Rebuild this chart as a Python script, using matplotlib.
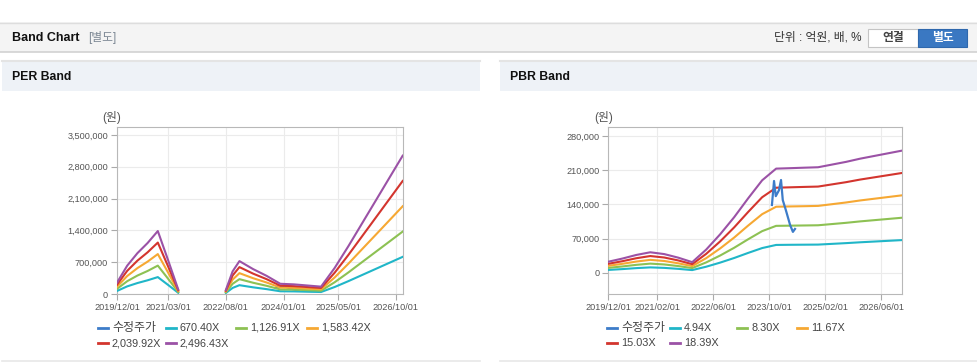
import numpy as np
import matplotlib.pyplot as plt
from matplotlib.patches import Rectangle
from matplotlib.lines import Line2D

plt.rcParams['font.family'] = ['Liberation Sans', 'Noto Sans CJK KR', 'DejaVu Sans']

nan = np.nan

# ---- data (x = months since 2019/12/01) ----
band_colors = ['#3d7cc9', '#20b6c8', '#8dc153', '#f6a833', '#d3352e', '#9b52a6']

per_labels = ['수정주가', '670.40X', '1,126.91X', '1,583.42X', '2,039.92X', '2,496.43X']
per_months = [0, 3, 6, 9, 12, 15, 18, 25, 32, 34, 36, 40, 44, 48, 52, 56, 60, 64, 68, 72, 76, 80, 84]
per_670 = [67000, 168000, 241000, 302000, 372000, 201000, 27000, nan, 23000, 134000, 194000, 147000,
           107000, 60000, 57000, 50000, 44000, 154000, 282000, 416000, 550000, 684000, 818000]
per_1126 = [113000, 282000, 406000, 507000, 625000, 338000, 45000, nan, 39000, 225000, 327000, 248000,
            180000, 101000, 96000, 85000, 73000, 259000, 473000, 699000, 924000, 1149000, 1375000]
per_1583 = [158000, 396000, 570000, 713000, 879000, 475000, 63000, nan, 55000, 317000, 459000, 348000,
            253000, 143000, 135000, 119000, 103000, 364000, 665000, 982000, 1298000, 1615000, 1932000]
per_2039 = [204000, 510000, 734000, 918000, 1132000, 612000, 82000, nan, 71000, 408000, 592000, 449000,
            326000, 184000, 173000, 153000, 133000, 469000, 857000, 1265000, 1673000, 2081000, 2489000]
per_2496 = [250000, 624000, 899000, 1123000, 1386000, 749000, 100000, nan, 87000, 499000, 724000, 549000,
            399000, 225000, 212000, 187000, 162000, 574000, 1049000, 1548000, 2047000, 2547000, 3046000]
per_xticks = ['2019/12/01', '2021/03/01', '2022/08/01', '2024/01/01', '2025/05/01', '2026/10/01']
per_yticks = [0, 700000, 1400000, 2100000, 2800000, 3500000]

pbr_labels = ['수정주가', '4.94X', '8.30X', '11.67X', '15.03X', '18.39X']
pbr_months = [0, 4, 8, 12, 16, 20, 24, 28, 32, 36, 40, 44, 48, 52, 56, 60, 64, 68, 72, 76, 80, 84]
pbr_494 = [6200, 7900, 9900, 11400, 10400, 8400, 5900, 12800, 21200, 30600, 41000, 50900,
           57300, 57600, 57800, 58000, 59500, 61000, 62700, 64200, 65700, 67200]
pbr_830 = [10400, 13300, 16600, 19100, 17400, 14100, 10000, 21600, 35700, 51500, 68900, 85500,
           96300, 96700, 97100, 97500, 100000, 102500, 105400, 107900, 110400, 112900]
pbr_1167 = [14600, 18700, 23300, 26800, 24500, 19800, 14000, 30300, 50200, 72400, 96900, 120200,
            135400, 136000, 136500, 137100, 140600, 144100, 148200, 151700, 155200, 158700]
pbr_1503 = [18800, 24000, 30100, 34600, 31600, 25600, 18000, 39100, 64600, 93200, 124700, 154800,
            174300, 175100, 175900, 176600, 181100, 185600, 190900, 195400, 199900, 204400]
pbr_1839 = [23000, 29400, 36800, 42300, 38600, 31300, 22100, 47800, 79100, 114000, 152600, 189400,
            213300, 214200, 215200, 216100, 221600, 227100, 233600, 239100, 244600, 250100]
pbr_xticks = ['2019/12/01', '2021/02/01', '2022/06/01', '2023/10/01', '2025/02/01', '2026/06/01']
pbr_yticks = [0, 70000, 140000, 210000, 280000]

# adjusted share price
price_months = [46.8, 47.4, 47.9, 48.8, 49.4, 49.9, 50.8, 52.0, 52.8, 53.4]
price = [139000, 188000, 157000, 169000, 190000, 149000, 128000, 98000, 84000, 90000]

W, H = 978, 362


def fx(x):
    return x / W


def fy(y):
    return 1 - y / H


def month_of(label):
    y, m, _ = label.split('/')
    return (int(y) - 2019) * 12 + int(m) - 12


def rect(x0, y0, x1, y1, fc, ec='none', lw=0.8):
    fig.add_artist(Rectangle((fx(x0), fy(y1)), (x1 - x0) / W, (y1 - y0) / H,
                             transform=fig.transFigure, facecolor=fc, edgecolor=ec, lw=lw))


def hline(x0, x1, y, color, lw=1.0):
    fig.add_artist(Line2D([fx(x0), fx(x1)], [fy(y), fy(y)], transform=fig.transFigure,
                          color=color, lw=lw))


fig = plt.figure(figsize=(9.78, 3.62), dpi=100)

# top header bar
rect(0, 22, 978, 52, '#f4f4f4')
hline(0, 978, 22.5, '#dddddd')
hline(0, 978, 52, '#d2d2d2', 1.2)
fig.text(fx(12), fy(38), 'Band Chart', fontsize=9, fontweight='bold', va='center', color='#111111')
fig.text(fx(88), fy(38), '[별도]', fontsize=8.5, va='center', color='#7c8794')
fig.text(fx(862), fy(38), '단위 : 억원, 배, %', fontsize=8.5, va='center', ha='right', color='#333333')
rect(868, 29, 918, 47, 'white', '#c4c4c4')
rect(918, 29, 967, 47, '#3a78c2', '#2f68ad')
fig.text(fx(893), fy(38), '연결', fontsize=8.5, va='center', ha='center', color='#444444', fontweight='bold')
fig.text(fx(942.5), fy(38), '별도', fontsize=8.5, va='center', ha='center', color='white', fontweight='bold')


def band_panel(px0, px1, title, ax_box, months, series, xtick_labels, yticks, ylim,
               labels, legend_x):
    # panel frame
    hline(px0, px1, 61, '#e4e4e4', 1.5)
    rect(px0, 62, px1, 91, '#eef2f7')
    hline(px0, px1, 361, '#e8e8e8', 1.2)
    fig.text(fx(px0 + 10), fy(77), title, fontsize=8.8, fontweight='bold', va='center', color='#111111')

    l, t, r, b = ax_box
    ax = fig.add_axes([fx(l), fy(b), (r - l) / W, (b - t) / H])
    ax.plot(price_months, price, color=band_colors[0], lw=1.6, zorder=1 if title == 'PER Band' else 5)
    for vals, c in zip(series, band_colors[1:]):
        ax.plot(months, vals, color=c, lw=1.5, zorder=3)

    ax.set_xlim(0, 84)
    ax.set_ylim(*ylim)
    ax.set_xticks([month_of(s) for s in xtick_labels])
    ax.set_xticklabels(xtick_labels)
    ax.set_yticks(yticks)
    ax.set_yticklabels([f'{v:,}' for v in yticks])
    ax.tick_params(labelsize=6.6, labelcolor='#555555', color='#aaaaaa', length=4, width=0.8, pad=2.5)
    ax.grid(True, color='#ebebeb', lw=0.8)
    ax.set_axisbelow(True)
    for s in ax.spines.values():
        s.set_color('#b8b8b8')
    fig.text(fx(l - 5), fy(117), '(원)', fontsize=8.5, ha='center', va='center', color='#555555')

    # legend, two rows like the original
    rows = [328, 328, 328, 328, 343, 343]
    for lab, c, tx, ty in zip(labels, band_colors, legend_x, rows):
        fig.add_artist(Line2D([fx(tx - 14), fx(tx - 4)], [fy(ty), fy(ty)], transform=fig.transFigure,
                              color=c, lw=2))
        fs = 8.6 if lab == '수정주가' else 7.8
        fig.text(fx(tx), fy(ty), lab, fontsize=fs, va='center', color='#444444')
    return ax


band_panel(2, 480, 'PER Band', (117, 126.7, 402.7, 294), per_months,
           [per_670, per_1126, per_1583, per_2039, per_2496], per_xticks, per_yticks,
           (0, 3683000), per_labels, [112, 180, 250, 321, 112, 180])

band_panel(500, 978, 'PBR Band', (608.3, 126.7, 902, 294), pbr_months,
           [pbr_494, pbr_830, pbr_1167, pbr_1503, pbr_1839], pbr_xticks, pbr_yticks,
           (-43000, 299000), pbr_labels, [621, 684, 751, 811, 621, 684])

fig.savefig('out.png', dpi=100)
